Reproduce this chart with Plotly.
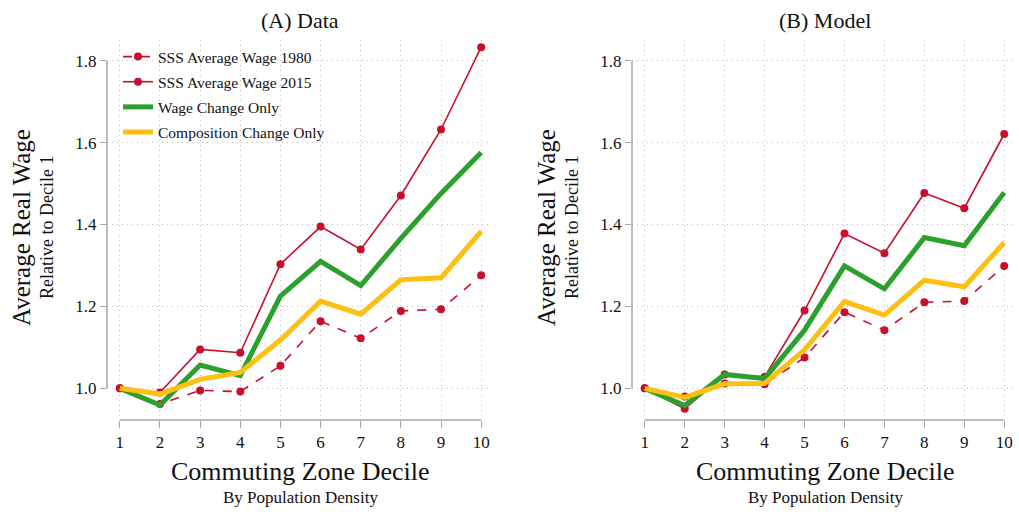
import plotly.graph_objects as go

deciles = [1, 2, 3, 4, 5, 6, 7, 8, 9, 10]

# Panel A: Data
data_sss_1980 = [1.000, 0.962, 0.995, 0.992, 1.055, 1.164, 1.122, 1.189, 1.193, 1.276]
data_sss_2015 = [1.000, 0.990, 1.095, 1.087, 1.303, 1.395, 1.339, 1.471, 1.632, 1.833]
data_wage_only = [1.000, 0.959, 1.057, 1.031, 1.225, 1.310, 1.251, 1.366, 1.476, 1.576]
data_comp_only = [1.000, 0.986, 1.022, 1.039, 1.118, 1.213, 1.181, 1.265, 1.270, 1.383]

# Panel B: Model
model_sss_1980 = [1.000, 0.980, 1.012, 1.010, 1.075, 1.186, 1.142, 1.210, 1.213, 1.299]
model_sss_2015 = [1.000, 0.950, 1.034, 1.028, 1.190, 1.378, 1.330, 1.477, 1.440, 1.621]
model_wage_only = [1.000, 0.958, 1.034, 1.024, 1.142, 1.299, 1.243, 1.368, 1.348, 1.478]
model_comp_only = [1.000, 0.978, 1.011, 1.012, 1.094, 1.212, 1.179, 1.264, 1.248, 1.356]

y_ticks = [1.0, 1.2, 1.4, 1.6, 1.8]
y_tick_labels = ["1.0", "1.2", "1.4", "1.6", "1.8"]

panel_titles = ["(A) Data", "(B) Model"]
series_names = ["SSS Average Wage 1980", "SSS Average Wage 2015",
                "Wage Change Only", "Composition Change Only"]

RED = "#c8102e"
GREEN = "#2ca02c"
YELLOW = "#fdbf12"
AXIS_GRAY = "#a6a6a6"
GRID = "#bdbdbd"
FONT = "Liberation Serif"

W, H = 1019, 512
fig = go.Figure()

panels = [
    (data_sss_1980, data_sss_2015, data_wage_only, data_comp_only, "x", "y", True),
    (model_sss_1980, model_sss_2015, model_wage_only, model_comp_only, "x2", "y2", False),
]

for s80, s15, wg, cp, xa, ya, show in panels:
    fig.add_trace(go.Scatter(x=deciles, y=s80, mode="lines+markers", name=series_names[0],
                             legendgroup="g0",
                             line=dict(color=RED, width=1.6, dash="dash"),
                             marker=dict(color=RED, size=8), xaxis=xa, yaxis=ya,
                             showlegend=show))
    fig.add_trace(go.Scatter(x=deciles, y=s15, mode="lines+markers", name=series_names[1],
                             legendgroup="g1",
                             line=dict(color=RED, width=1.6),
                             marker=dict(color=RED, size=8), xaxis=xa, yaxis=ya,
                             showlegend=show))
    fig.add_trace(go.Scatter(x=deciles, y=wg, mode="lines", name=series_names[2],
                             legendgroup="g2",
                             line=dict(color=GREEN, width=5), xaxis=xa, yaxis=ya,
                             showlegend=show))
    fig.add_trace(go.Scatter(x=deciles, y=cp, mode="lines", name=series_names[3],
                             legendgroup="g3",
                             line=dict(color=YELLOW, width=5), xaxis=xa, yaxis=ya,
                             showlegend=show))

x_range = [0.68, 10.22]
y_range = [0.9227, 1.8505]
y_dom = [(H - 420) / H, (H - 40) / H]

common_x = dict(range=x_range, tickvals=deciles, ticktext=[str(d) for d in deciles],
                showline=False, zeroline=False, showgrid=True, gridcolor=GRID,
                griddash="1px,4px", gridwidth=1, ticks="outside", ticklen=7,
                tickcolor=AXIS_GRAY, tickwidth=1.3,
                tickfont=dict(family=FONT, size=17, color="#111"))
common_y = dict(range=y_range, tickvals=y_ticks, ticktext=y_tick_labels,
                showline=False, zeroline=False, showgrid=True, gridcolor=GRID,
                griddash="1px,4px", gridwidth=1, ticks="outside", ticklen=6,
                tickcolor=AXIS_GRAY, tickwidth=1.3, domain=y_dom,
                tickfont=dict(family=FONT, size=17, color="#111"))

fig.update_layout(
    width=W, height=H,
    margin=dict(l=0, r=0, t=0, b=0),
    paper_bgcolor="white", plot_bgcolor="white",
    xaxis=dict(domain=[107 / W, 490 / W], anchor="y", **common_x),
    yaxis=dict(anchor="x", **common_y),
    xaxis2=dict(domain=[632 / W, 1013 / W], anchor="y2", **common_x),
    yaxis2=dict(anchor="x2", **common_y),
    legend=dict(x=118 / W, y=1 - 40 / H, xanchor="left", yanchor="top",
                bgcolor="rgba(0,0,0,0)", font=dict(family=FONT, size=15.5, color="#111"),
                itemwidth=30, tracegroupgap=2),
    font=dict(family=FONT, color="#111"),
    showlegend=True,
)

# Stata-style axis lines spanning only the tick range
for xa, ya in [("x", "y"), ("x2", "y2")]:
    fig.add_shape(type="line", xref=xa, yref=f"{ya} domain", x0=deciles[0], x1=deciles[-1],
                  y0=0, y1=0, line=dict(color=AXIS_GRAY, width=1.5))
    fig.add_shape(type="line", xref=f"{xa} domain", yref=ya, x0=0, x1=0,
                  y0=y_ticks[0], y1=y_ticks[-1], line=dict(color=AXIS_GRAY, width=1.5))

centers = [300 / W, 825 / W]
axis_left = [107, 632]
for i, c in enumerate(centers):
    fig.add_annotation(text=panel_titles[i], x=c, y=1 - 20 / H, xref="paper", yref="paper",
                       showarrow=False, xanchor="center", yanchor="middle",
                       font=dict(family=FONT, size=22, color="#111"))
    fig.add_annotation(text="Commuting Zone Decile", x=c, y=1 - 471 / H, xref="paper",
                       yref="paper", showarrow=False, xanchor="center", yanchor="middle",
                       font=dict(family=FONT, size=26, color="#111"))
    fig.add_annotation(text="By Population Density", x=c, y=1 - 497 / H, xref="paper",
                       yref="paper", showarrow=False, xanchor="center", yanchor="middle",
                       font=dict(family=FONT, size=17, color="#111"))
    fig.add_annotation(text="Average Real Wage", x=(axis_left[i] - 86) / W, y=1 - 228 / H,
                       xref="paper", yref="paper", showarrow=False, textangle=-90,
                       xanchor="center", yanchor="middle",
                       font=dict(family=FONT, size=25, color="#111"))
    fig.add_annotation(text="Relative to Decile 1", x=(axis_left[i] - 60) / W, y=1 - 228 / H,
                       xref="paper", yref="paper", showarrow=False, textangle=-90,
                       xanchor="center", yanchor="middle",
                       font=dict(family=FONT, size=18, color="#111"))

fig.write_html("out.html")
